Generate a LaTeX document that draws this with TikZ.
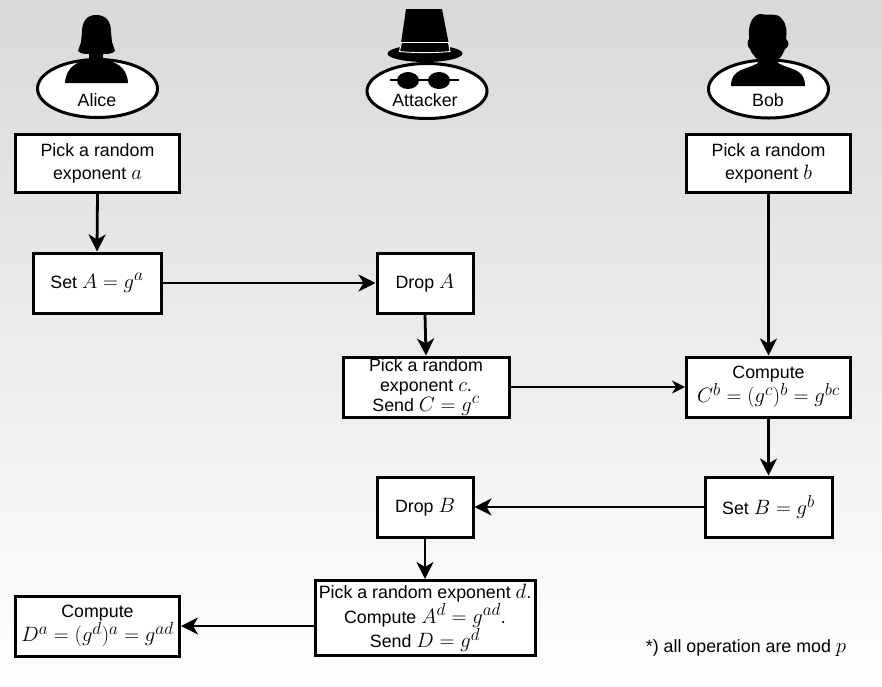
\documentclass[tikz,border=0pt]{standalone}
\usepackage{fontspec}
\setmainfont{Liberation Sans}
\DeclareMathSizes{17.8}{22.5}{16.5}{12}
\usetikzlibrary{arrows.meta,shadows,shapes.geometric}
\tikzset{
    flowbox/.style={draw=black, line width=3pt, fill=white, align=center, inner sep=0pt,
        font=\fontsize{17.8}{23}\selectfont,
        drop shadow={opacity=0.25, shadow xshift=1.5pt, shadow yshift=-1.5pt}},
    person/.style={draw=black, line width=3pt, fill=white, shape=ellipse,
        drop shadow={opacity=0.25, shadow xshift=1.5pt, shadow yshift=-1.5pt}},
    personname/.style={font=\fontsize{17.8}{20}\selectfont},
    flow/.style={line width=2.8pt, -{Stealth[length=17pt, width=17pt, inset=5pt]}},
    thinflow/.style={line width=1.4pt, -{Stealth[length=13pt, width=13pt, inset=4pt]}}
}
\begin{document}
\begin{tikzpicture}[x=1pt,y=-1pt]
    \useasboundingbox (0,0) rectangle (882,686);
    \shade[top color=black!15, bottom color=white] (0,0) rectangle (882,686);

    %boxes:
    \foreach \x/\y/\w/\h/\n/\l in {
        97.5/163/164/58/pa/{Pick a random\\exponent $a$},
        97/283/128/60/sa/{Set $A=g^a$},
        425/283/96/60/da/{Drop $A$},
        426/387/166/60/pc/{Pick a random\\[-3pt]exponent $c$.\\[-3pt]Send $C=g^c$},
        768.5/163/164/58/pb/{Pick a random\\exponent $b$},
        768.5/387/164/60/cb/{Compute\\$C^b=(g^c)^b=g^{bc}$},
        768.5/507/127/60/sb/{Set $B=g^b$},
        425/507/96/60/db/{Drop $B$},
        425/618/220/75/pd/{Pick a random exponent $d$.\\Compute $A^d=g^{ad}$.\\Send $D=g^d$},
        97.5/626/164/60/cd/{Compute\\$D^a=(g^d)^a=g^{ad}$}}{
        \node[flowbox, minimum width=\w pt, minimum height=\h pt] (\n) at (\x,\y) {\l};
    }

    \foreach \m/\n in {pa/sa,da/pc,pb/cb,cb/sb,db/pd}{
        \draw[flow] (\m.south) -- (\n.north);
    }
    \draw[flow] (sa) -- (da);
    \draw[thinflow] (pc) -- (cb);
    \draw[flow] (sb) -- (db);
    \draw[flow] (cd -| pd.west) -- (cd.east);

    %people:
    \foreach \x/\y/\rx/\ry/\n in {97.5/88.5/60/29/alice,427/91/60/27.5/attacker,768.5/89/60/29/bob}{
        \node[person, minimum width=2*\rx pt, minimum height=2*\ry pt, inner sep=0pt] (\n) at (\x,\y) {};
    }

    %alice
    \fill (82,32) .. controls (82,20) and (88,15) .. (96,15) .. controls (105,15) and (111,20) .. (111,32)
        -- (112,42) -- (115,51) .. controls (112,54) and (108,54) .. (103,54) -- (103,59)
        .. controls (115,62) and (127,66) .. (128,83) -- (65,83)
        .. controls (66,66) and (78,62) .. (89,59) -- (89,54)
        .. controls (85,54) and (81,54) .. (78,51) -- (81,42) -- cycle;
    %bob
    \fill (749,36) .. controls (748,24) and (753,14) .. (761,14) .. controls (770,16) and (777,12) .. (782,19)
        .. controls (787,25) and (787,32) .. (786,39) .. controls (790,42) and (789,47) .. (785,49)
        .. controls (783,54) and (781,57) .. (779,59) -- (778,63)
        .. controls (790,70) and (805,68) .. (805,86) -- (731,86)
        .. controls (731,68) and (747,70) .. (758,63) -- (757,59)
        .. controls (755,57) and (752,54) .. (750,49) .. controls (747,47) and (747,41) .. (749,39) -- cycle;
    %attacker
    \fill (406,9) -- (442,9) -- (450,50) -- (400,50) -- cycle;
    \fill (425,53.5) ellipse (37.5 and 8.5);
    \draw[white, line width=0.9pt] (401.5,42.5) -- (448.5,42.5) -- (450,51.5)
        .. controls (435,53) and (415,53) .. (399.5,51.5) -- cycle;
    \fill (408,80.5) ellipse (11 and 8.5);
    \fill (439,80.5) ellipse (11 and 8.5);
    \draw[line width=2.2pt] (390,80) -- (459,80);

    %labels:
    \foreach \x/\y/\n/\l in {97/100/lalice/Alice,425/100/lattacker/Attacker,768/100/lbob/Bob}{
        \node[personname] (\n) at (\x,\y) {\l};
    }
    \node[font=\fontsize{17.8}{20}\selectfont] (note) at (746,648) {*) all operation are mod $p$};
\end{tikzpicture}
\end{document}
